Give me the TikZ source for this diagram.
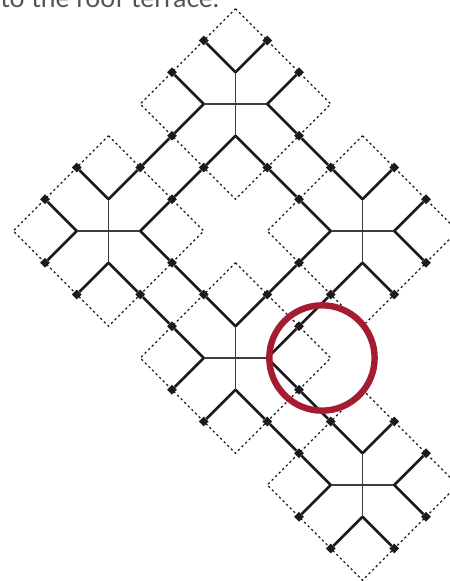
\documentclass[tikz,border=0pt]{standalone}
\usepackage{fontspec}
\setmainfont{Lato}
\usepackage{xcolor}
\usetikzlibrary{shapes.geometric}
\definecolor{ringred}{HTML}{A51C30}
\definecolor{ink}{HTML}{1C1A1B}
\tikzset{
  leaf/.style={shape=diamond,fill=ink,inner sep=0pt,minimum size=7.5pt},
  spoke/.style={draw=ink,line width=2.05pt},
  arm/.style={draw=ink!85,line width=1.4pt},
  border/.style={draw=ink,line width=0.95pt,dash pattern=on 1.7pt off 2.1pt},
  disc/.style={shape=circle,fill=white,inner sep=0pt,minimum size=79pt},
  ring/.style={shape=circle,draw=ringred,line width=4.8pt,inner sep=0pt,minimum size=79pt},
}
\begin{document}
\begin{tikzpicture}[x=23.8125pt,y=23.8125pt]
\useasboundingbox (-7.417,3.276) rectangle (6.756,-15.024);
\clip (-7.417,3.276) rectangle (6.756,-15.024);
\node[anchor=base west,inner sep=0pt,text=ink!75,font=\fontsize{19.8}{22}\selectfont] (caption) at (-7.417,3.05) {to the roof terrace.};
\foreach \n/\a/\b in {T/0/0,L/-4/-4,R/4/-4,B/0/-8,E/4/-12}{
  \begin{scope}[shift={(\a,\b)}]
  \coordinate (\n-t) at (0,1);
  \coordinate (\n-b) at (0,-1);
  \coordinate (\n-l) at (-1,0);
  \coordinate (\n-r) at (1,0);
  \coordinate (\n-N) at (0,3);
  \coordinate (\n-S) at (0,-3);
  \coordinate (\n-W) at (-3,0);
  \coordinate (\n-E) at (3,0);
  \end{scope}
}
\foreach \n in {T,L,R,E}{
  \draw[border] (\n-N) -- (\n-E) -- (\n-S) -- (\n-W) -- cycle;
}
\node[disc] (hole) at (2.724,-8) {};
\draw[border] (B-N) -- (B-E) -- (B-S) -- (B-W) -- cycle;
\foreach \n/\a/\b in {T/0/0,L/-4/-4,R/4/-4,B/0/-8,E/4/-12}{
  \draw[arm] (\n-t) -- (\n-b);
  \draw[arm] (\n-l) -- (\n-r);
  \begin{scope}[shift={(\a,\b)}]
  \foreach \m/\h/\x/\y in {ta/t/-1/2,tb/t/1/2,lu/l/-2/1,ld/l/-2/-1,ru/r/2/1,rd/r/2/-1,ba/b/-1/-2,bb/b/1/-2}{
    \node[leaf] (\n-\m) at (\x,\y) {};
    \draw[spoke] (\n-\h) -- (\n-\m);
  }
  \end{scope}
}
\draw[spoke] (T-ld) -- (L-tb);
\draw[spoke] (T-ba) -- (L-ru);
\draw[spoke] (T-bb) -- (R-lu);
\draw[spoke] (T-rd) -- (R-ta);
\draw[spoke] (L-bb) -- (B-lu);
\draw[spoke] (L-rd) -- (B-ta);
\draw[spoke] (R-ld) -- (B-tb);
\draw[spoke] (R-ba) -- (B-ru);
\draw[spoke] (B-rd) -- (E-ta);
\draw[spoke] (B-bb) -- (E-lu);
\node[ring] (mark) at (hole.center) {};
\end{tikzpicture}
\end{document}
